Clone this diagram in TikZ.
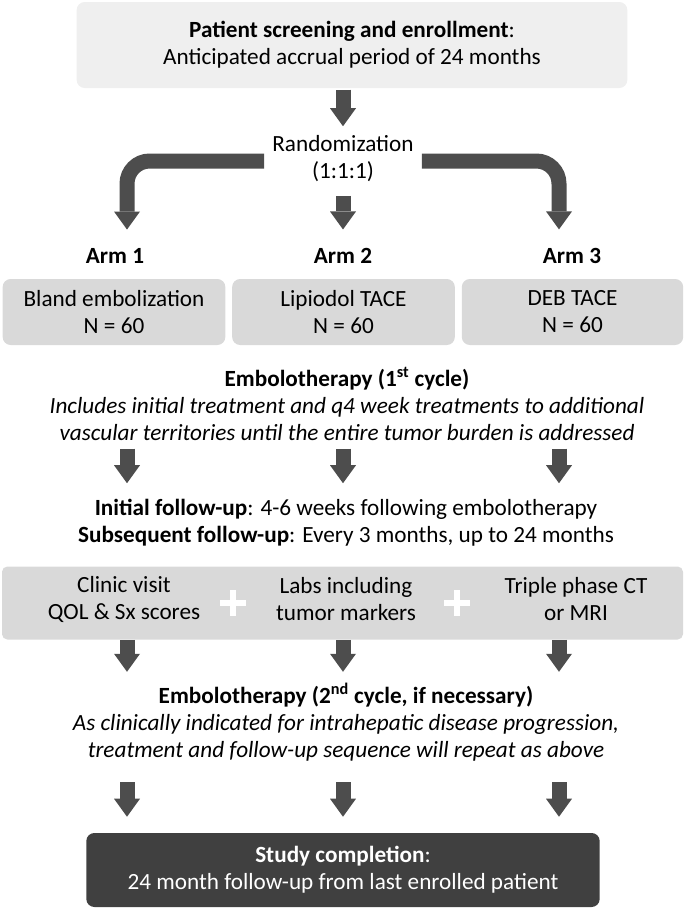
\documentclass[tikz,border=0pt]{standalone}
\usepackage{fontspec}
\setmainfont{Carlito}
\usetikzlibrary{arrows.meta,positioning}

\definecolor{topgray}{HTML}{EFEFEF}
\definecolor{boxgray}{HTML}{D9D9D9}
\definecolor{arrowgray}{HTML}{4D4D4D}
\definecolor{donegray}{HTML}{404040}

\begin{document}
\begin{tikzpicture}[x=0.75pt, y=-0.75pt,
    font=\fontsize{17.4}{20.25}\selectfont,
    box/.style={rectangle, rounded corners=6pt, fill=boxgray, align=center, inner sep=0pt},
    txt/.style={align=center, inner sep=0pt},
    blk/.style={draw=arrowgray, line width=11.25pt, -{Triangle[width=19.5pt, length=13.5pt, line width=0pt]}},
    plus/.style={draw=white, line width=5pt}
]
\useasboundingbox (0,0) rectangle (685,908);

% columns of the arrows
\coordinate (c1) at (127,0);
\coordinate (c2) at (343,0);
\coordinate (c3) at (559,0);

\node[box, fill=topgray, minimum width=413pt, minimum height=64.5pt] (screen) at (352,45) {\textbf{Patient screening and enrollment}:\\Anticipated accrual period of 24 months};
\node[txt] (rand) at (343,159) {Randomization\\(1:1:1)};

\node[txt] (arm1) at (115,256) {\textbf{Arm 1}};
\node[txt] (arm2) at (343,256) {\textbf{Arm 2}};
\node[txt] (arm3) at (572,256) {\textbf{Arm 3}};

\node[box, minimum width=167pt, minimum height=49.5pt] (b1) at (114,312) {Bland embolization\\N = 60};
\node[box, minimum width=167pt, minimum height=49.5pt] (b2) at (343.5,312) {Lipiodol TACE\\N = 60};
\node[box, minimum width=166pt, minimum height=49.5pt] (b3) at (572.5,312) {DEB TACE\\N = 60};

\node[txt] (emb1) at (347,404) {\textbf{Embolotherapy (1\textsuperscript{st} cycle)}\\\textit{Includes initial treatment and q4 week treatments to additional}\\\textit{vascular territories until the entire tumor burden is addressed}};

\node[txt] (fup) at (346,523) {\textbf{Initial follow-up}: 4-6 weeks following embolotherapy\\\textbf{Subsequent follow-up}: Every 3 months, up to 24 months};

\node[box, rounded corners=4pt, minimum width=510.75pt, minimum height=54.75pt] (band) at (342.5,603) {};
\node[txt] (clinic) at (124,599) {Clinic visit\\QOL \& Sx scores};
\node[txt] (labs) at (346,599) {Labs including\\tumor markers};
\node[txt] (ct) at (576,599) {Triple phase CT\\or MRI};
\coordinate (p1) at (233,603);
\coordinate (p2) at (457,603);
\draw[plus] ([xshift=-9.75pt]p1) -- ([xshift=9.75pt]p1) ([yshift=-9.75pt]p1) -- ([yshift=9.75pt]p1);
\draw[plus] ([xshift=-9.75pt]p2) -- ([xshift=9.75pt]p2) ([yshift=-9.75pt]p2) -- ([yshift=9.75pt]p2);

\node[txt] (emb2) at (346,722) {\textbf{Embolotherapy (2\textsuperscript{nd} cycle, if necessary)}\\\textit{As clinically indicated for intrahepatic disease progression,}\\\textit{treatment and follow-up sequence will repeat as above}};

\node[box, fill=donegray, text=white, minimum width=385pt, minimum height=55.5pt] (done) at (343,870) {\textbf{Study completion}:\\24 month follow-up from last enrolled patient};

% arrows
\draw[blk, shorten <=1pt, shorten >=7pt] (screen.south -| c2) -- (rand.north -| c2);
\draw[blk, shorten <=10pt, shorten >=14pt] (rand.south -| c2) -- (arm2.north -| c2);
\draw[blk, rounded corners=17pt, shorten <=6pt, shorten >=14pt] ([yshift=-1.5pt]rand.west) -| (arm1.north -| c1);
\draw[blk, rounded corners=17pt, shorten <=6pt, shorten >=14pt] ([yshift=-1.5pt]rand.east) -| (arm3.north -| c3);

\foreach \c in {c1,c2,c3} {
  \draw[blk, shorten <=6pt, shorten >=12pt] (emb1.south -| \c) -- (fup.north -| \c);
  \draw[blk] (band.south -| \c) -- ([yshift=-24pt]band.south -| \c);
  \draw[blk, shorten <=16pt, shorten >=12pt] (emb2.south -| \c) -- (done.north -| \c);
}
\end{tikzpicture}
\end{document}
